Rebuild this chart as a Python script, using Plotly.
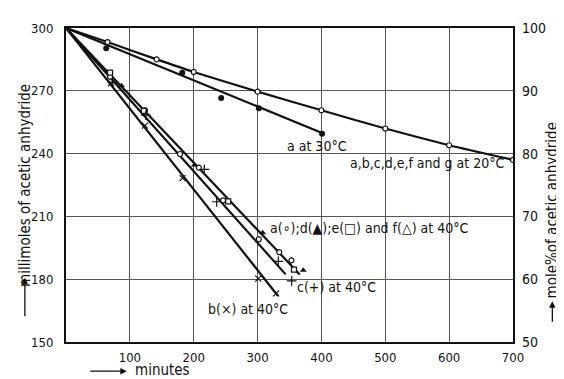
import plotly.graph_objects as go

# ---------------- data ----------------
# 20 °C (a,b,c,d,e,f and g) – open circles, curve from origin
t20 = [65, 142, 200, 300, 400, 500, 600, 700]
m20 = [293.3, 285.0, 279.0, 269.6, 260.7, 252.0, 244.0, 237.0]

# 30 °C (a) – filled dots, straight fit
t30 = [63, 182, 243, 302, 401]
m30 = [290.3, 278.6, 266.6, 261.7, 249.5]
fit30_t = [0, 400]
fit30_m = [300, 250]

# 40 °C fitted lines
fitA_t = [0, 366]      # a, d, e, f
fitA_m = [300, 182.3]
fitC_t = [0, 344]      # c
fitC_m = [300, 182.3]
fitB_t = [0, 332]      # b
fitB_m = [300, 172.0]

# 40 °C markers
a40_t = [69, 123.7, 178.5, 208, 246, 302, 334, 353]
a40_m = [276.7, 260.7, 239.8, 233.3, 217.7, 199.1, 192.9, 189.0]
d40_t = [87, 201, 308, 371.6]
d40_m = [272.4, 234.5, 202.2, 184.3]
e40_t = [69, 122, 254, 357]
e40_m = [278.7, 260.4, 217.2, 184.6]
c40_t = [73, 125, 216.6, 236, 332.5, 353.4]
c40_m = [274.0, 258.4, 232.5, 217.0, 188.5, 179.2]
b40_t = [70.5, 123.7, 182.5, 301, 329]
b40_m = [273.6, 253.4, 228.3, 180.3, 173.2]

x_ticks = [100, 200, 300, 400, 500, 600, 700]
y_ticks = [150, 180, 210, 240, 270, 300]
y2_ticks = [50, 60, 70, 80, 90, 100]

FONT = "DejaVu Sans Condensed, Liberation Sans Narrow, Roboto, sans-serif"
INK = "#111111"

fig = go.Figure()

line_style = dict(color=INK, width=2.2)
fig.add_trace(go.Scatter(x=[0] + t20, y=[300] + m20, mode="lines",
                         line=dict(color=INK, width=2.2, shape="spline", smoothing=0.6)))
fig.add_trace(go.Scatter(x=fit30_t, y=fit30_m, mode="lines", line=line_style))
fig.add_trace(go.Scatter(x=fitA_t, y=fitA_m, mode="lines", line=line_style))
fig.add_trace(go.Scatter(x=fitC_t, y=fitC_m, mode="lines", line=line_style))
fig.add_trace(go.Scatter(x=fitB_t, y=fitB_m, mode="lines", line=line_style))

open_c = dict(symbol="circle", size=5, color="white", line=dict(color=INK, width=1.2))
fig.add_trace(go.Scatter(x=t20, y=m20, mode="markers", marker=open_c))
fig.add_trace(go.Scatter(x=t30, y=m30, mode="markers",
                         marker=dict(symbol="circle", size=6, color=INK)))
fig.add_trace(go.Scatter(x=a40_t, y=a40_m, mode="markers", marker=open_c))
fig.add_trace(go.Scatter(x=d40_t, y=d40_m, mode="markers",
                         marker=dict(symbol="triangle-up", size=6, color=INK)))
fig.add_trace(go.Scatter(x=e40_t, y=e40_m, mode="markers",
                         marker=dict(symbol="square", size=5, color="white",
                                     line=dict(color=INK, width=1.2))))
fig.add_trace(go.Scatter(x=c40_t, y=c40_m, mode="markers",
                         marker=dict(symbol="cross-thin", size=7,
                                     line=dict(color=INK, width=1.2))))
fig.add_trace(go.Scatter(x=b40_t, y=b40_m, mode="markers",
                         marker=dict(symbol="x-thin", size=6,
                                     line=dict(color=INK, width=1.2))))
# invisible trace for the right (mole %) axis
fig.add_trace(go.Scatter(x=t20, y=[m / 3 for m in m20], yaxis="y2", mode="markers",
                         marker=dict(opacity=0), hoverinfo="skip"))

ann_font = dict(family=FONT, size=14, color=INK)
labels = [
    ("a at 30°C", 343, 243.4),
    ("a,b,c,d,e,f and g at 20°C", 441, 235.6),
    ("a(∘);d(▲);e(□) and f(△) at 40°C", 316, 204.5),
    ("c(+) at 40°C", 359, 176.1),
    ("b(×) at 40°C", 219, 165.9),
]
for txt, xx, yy in labels:
    fig.add_annotation(x=xx, y=yy, xref="x", yref="y", text=txt, showarrow=False,
                       xanchor="left", yanchor="middle", font=ann_font)

# axis titles with arrows
fig.add_annotation(x=-0.092, y=0.50, xref="paper", yref="paper",
                   text="millimoles of acetic anhydride", textangle=-90, showarrow=False,
                   xanchor="center", yanchor="middle",
                   font=dict(family=FONT, size=15, color=INK))
fig.add_annotation(x=-0.092, y=0.205, xref="paper", yref="paper", text="",
                   showarrow=True, ax=0, ay=40, arrowhead=2, arrowsize=1,
                   arrowwidth=1.3, arrowcolor=INK)
fig.add_annotation(x=1.088, y=0.42, xref="paper", yref="paper",
                   text="mole%of acetic anhydride", textangle=-90, showarrow=False,
                   xanchor="center", yanchor="middle",
                   font=dict(family=FONT, size=15, color=INK))
fig.add_annotation(x=1.088, y=0.13, xref="paper", yref="paper", text="",
                   showarrow=True, ax=0, ay=22, arrowhead=2, arrowsize=1,
                   arrowwidth=1.3, arrowcolor=INK)
fig.add_annotation(x=0.136, y=-0.093, xref="paper", yref="paper", text="",
                   showarrow=True, ax=-38, ay=0, arrowhead=2, arrowsize=1,
                   arrowwidth=1.3, arrowcolor=INK)
fig.add_annotation(x=0.150, y=-0.088, xref="paper", yref="paper", text="minutes",
                   showarrow=False, xanchor="left", yanchor="middle",
                   font=dict(family=FONT, size=15, color=INK))

grid = "#555555"
# page body has an 8 px margin: figure is sized to fit inside the 564x379 window
fig.update_layout(
    width=556, height=371,
    margin=dict(l=58, r=51, t=12, b=37),
    paper_bgcolor="white", plot_bgcolor="white",
    showlegend=False,
    font=dict(family=FONT, size=13, color=INK),
    xaxis=dict(range=[0, 700], tickvals=x_ticks, showgrid=True, gridcolor=grid,
               gridwidth=1, showline=True, linecolor=INK, linewidth=2, mirror=True,
               zeroline=False, ticks="", ticklabelstandoff=2,
               tickfont=dict(family=FONT, size=13, color=INK)),
    yaxis=dict(range=[150, 300], tickvals=y_ticks, showgrid=True, gridcolor=grid,
               gridwidth=1, showline=True, linecolor=INK, linewidth=2, mirror=True,
               zeroline=False, ticks="", ticklabelstandoff=8,
               tickfont=dict(family=FONT, size=13, color=INK)),
    yaxis2=dict(range=[50, 100], tickvals=y2_ticks, overlaying="y", side="right",
                showgrid=False, showline=False, zeroline=False, ticks="",
                ticklabelstandoff=8,
                tickfont=dict(family=FONT, size=14, color=INK)),
)

fig.write_html("out.html")
